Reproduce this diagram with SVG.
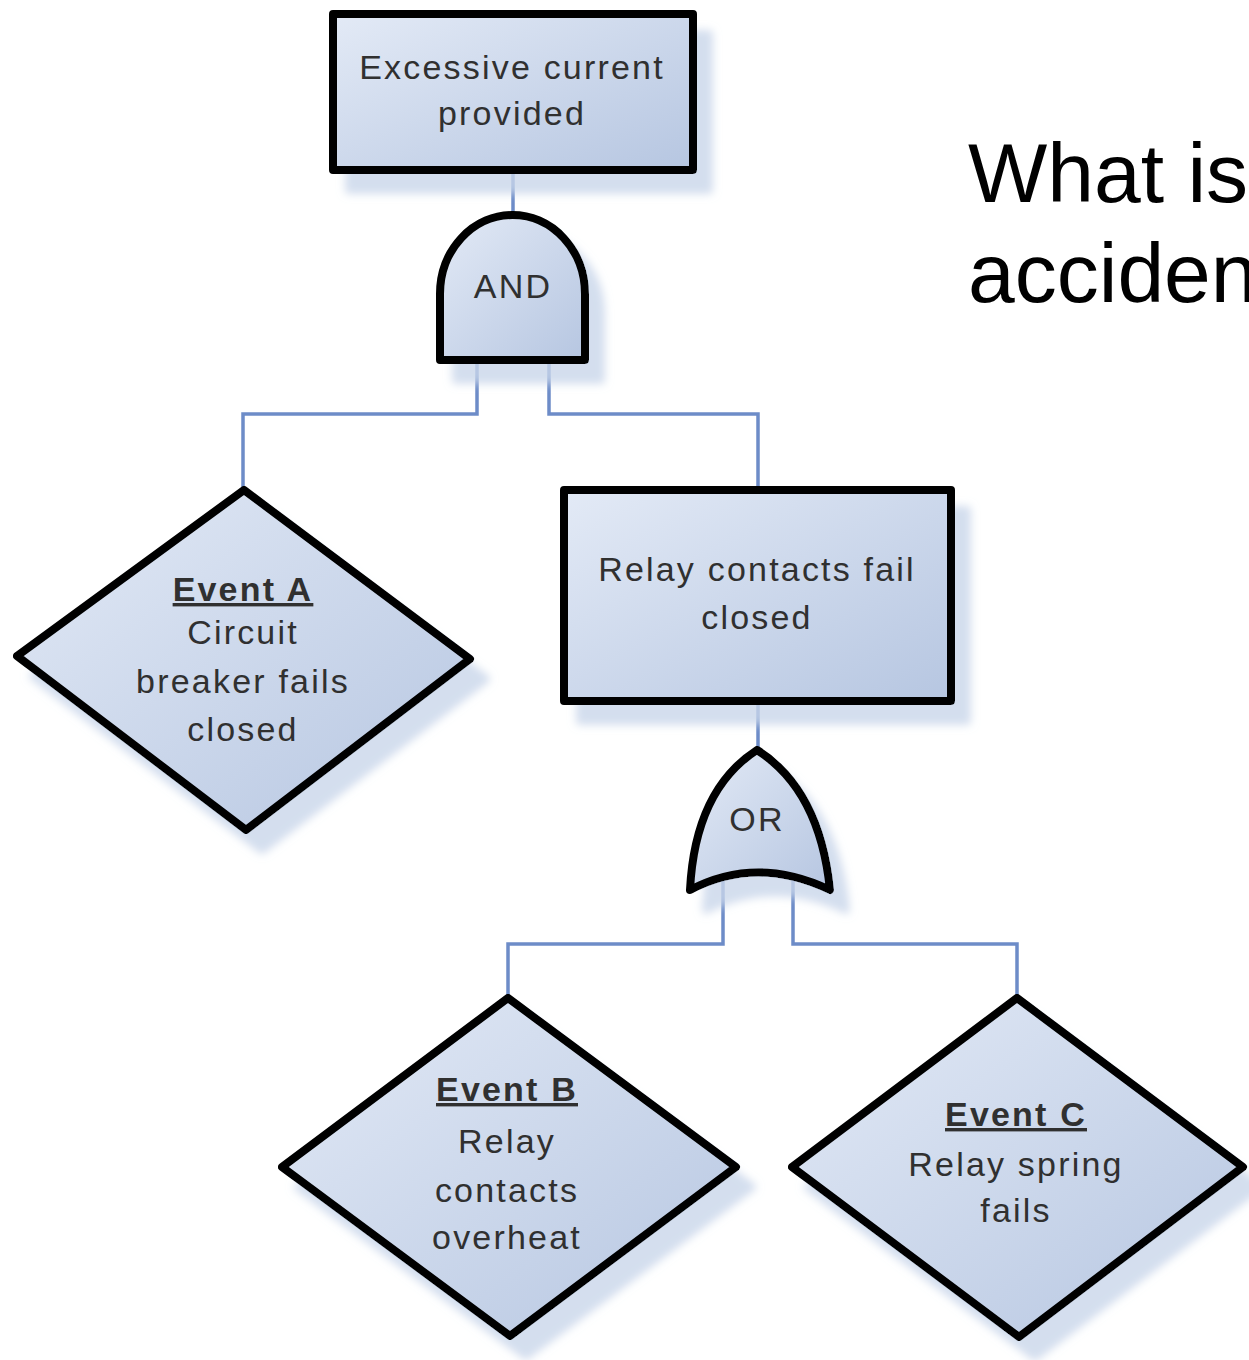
<svg xmlns="http://www.w3.org/2000/svg" width="1249" height="1360" viewBox="0 0 1249 1360">
  <defs>
    <linearGradient id="fillGrad" x1="0" y1="0" x2="1" y2="1">
      <stop offset="0" stop-color="#e3eaf6"/>
      <stop offset="1" stop-color="#b6c6e1"/>
    </linearGradient>
    <filter id="shadow" x="-20%" y="-20%" width="150%" height="150%">
      <feOffset in="SourceAlpha" dx="16" dy="20" result="off"/>
      <feGaussianBlur in="off" stdDeviation="4" result="blur"/>
      <feFlood flood-color="#c9d6ea" flood-opacity="0.8"/>
      <feComposite in2="blur" operator="in" result="sh"/>
      <feMerge>
        <feMergeNode in="sh"/>
        <feMergeNode in="SourceGraphic"/>
      </feMerge>
    </filter>
  </defs>
  <style>
    .shape { fill: url(#fillGrad); stroke: #000; stroke-width: 8; stroke-linejoin: round; filter: url(#shadow); }
    .lbl { font-family: "Liberation Sans", Arial, sans-serif; font-size: 34px; letter-spacing: 2.2px; fill: #303030; text-anchor: middle; }
    .ev { font-weight: bold; text-decoration: underline; }
    .conn { fill: none; stroke: #6d8cc8; stroke-width: 3.5; }
    .big { font-family: "Liberation Sans", Arial, sans-serif; font-size: 84px; fill: #000; }
  </style>
  <rect width="1249" height="1360" fill="#ffffff"/>

  <g id="connectors">
    <path class="conn" d="M513 170 V215"/>
    <path class="conn" d="M477 360 V414 H243 V490"/>
    <path class="conn" d="M549 360 V414 H758 V490"/>
    <path class="conn" d="M758 702 V750"/>
    <path class="conn" d="M723 878 V944 H508 V998"/>
    <path class="conn" d="M793 878 V944 H1017 V998"/>
  </g>

  <g id="top-event">
    <rect class="shape" x="333" y="14" width="360" height="156"/>
    <text class="lbl" x="512" y="79">Excessive current</text>
    <text class="lbl" x="512" y="125">provided</text>
  </g>

  <g id="and-gate">
    <path class="shape" d="M440 360 V294 A72.5 79 0 0 1 585 294 V360 Z"/>
    <text class="lbl" x="513" y="298">AND</text>
  </g>

  <g id="event-a">
    <path class="shape" d="M244 490 L470 659 L246 830 L17 656 Z"/>
    <text class="lbl ev" x="243" y="601">Event A</text>
    <text class="lbl" x="243" y="644">Circuit</text>
    <text class="lbl" x="243" y="693">breaker fails</text>
    <text class="lbl" x="243" y="741">closed</text>
  </g>

  <g id="relay-contacts">
    <rect class="shape" x="564" y="490" width="387" height="211"/>
    <text class="lbl" x="757" y="581">Relay contacts fail</text>
    <text class="lbl" x="757" y="629">closed</text>
  </g>

  <g id="or-gate">
    <path class="shape" d="M757 750 Q695 790 690 890 Q757 855 830 890 Q820 790 757 750 Z"/>
    <text class="lbl" x="757" y="831">OR</text>
  </g>

  <g id="event-b">
    <path class="shape" d="M508 998 L736 1167 L510 1336 L282 1167 Z"/>
    <text class="lbl ev" x="507" y="1101">Event B</text>
    <text class="lbl" x="507" y="1153">Relay</text>
    <text class="lbl" x="507" y="1202">contacts</text>
    <text class="lbl" x="507" y="1249">overheat</text>
  </g>

  <g id="event-c">
    <path class="shape" d="M1017 998 L1243 1167 L1019 1337 L792 1167 Z"/>
    <text class="lbl ev" x="1016" y="1126">Event C</text>
    <text class="lbl" x="1016" y="1176">Relay spring</text>
    <text class="lbl" x="1016" y="1222">fails</text>
  </g>

  <g id="question">
    <text class="big" x="968" y="202">What is</text>
    <text class="big" x="968" y="302">acciden</text>
  </g>
</svg>
